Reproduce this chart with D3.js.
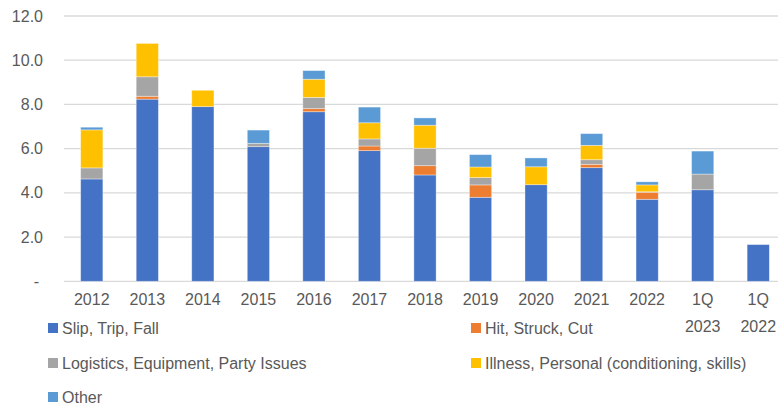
<!DOCTYPE html>
<html><head><meta charset="utf-8">
<script src="https://cdn.jsdelivr.net/npm/d3@7"></script>
<style>body{margin:0;background:#fff}svg{display:block}text{font-family:"Liberation Sans",Arial,sans-serif}</style>
</head><body><svg id="c" width="778" height="408"></svg>
<script>
const categories = ["2012","2013","2014","2015","2016","2017","2018","2019","2020","2021","2022","1Q 2023","1Q 2022"];
const seriesNames = ["Slip, Trip, Fall","Hit, Struck, Cut","Logistics, Equipment, Party Issues","Illness, Personal (conditioning, skills)","Other"];
const slipTripFall = [4.63,8.24,7.90,6.09,7.67,5.91,4.81,3.80,4.37,5.14,3.71,4.14,1.66];
const hitStruckCut = [0,0.13,0,0,0.14,0.21,0.42,0.56,0,0.15,0.32,0,0];
const logistics    = [0.50,0.88,0,0.15,0.51,0.32,0.79,0.33,0,0.21,0.02,0.71,0];
const illness      = [1.72,1.51,0.74,0,0.82,0.73,1.04,0.48,0.81,0.65,0.31,0,0];
const other        = [0.12,0,0,0.60,0.39,0.71,0.33,0.56,0.40,0.53,0.14,1.04,0];
const colors = ["#4472C4","#ED7D31","#A5A5A5","#FFC000","#5B9BD5"];
const yTicks = [0,2,4,6,8,10,12];

const svg = d3.select("#c");
const x = d3.scaleBand().domain(categories).range([64,786]).paddingInner(0.6).paddingOuter(0.3);
const y = d3.scaleLinear().domain([0,12]).range([281.3,16]);

const rows = categories.map((c,i)=>({cat:c,s0:slipTripFall[i],s1:hitStruckCut[i],s2:logistics[i],s3:illness[i],s4:other[i]}));
const stack = d3.stack().keys(["s0","s1","s2","s3","s4"])(rows);

// gridlines
svg.append("g").selectAll("line").data(yTicks).join("line")
  .attr("x1",64).attr("x2",778).attr("y1",d=>y(d)).attr("y2",d=>y(d))
  .attr("stroke","#d9d9d9").attr("stroke-width",1.3);

// bars
svg.append("g").selectAll("g").data(stack).join("g").attr("fill",(d,i)=>colors[i])
  .selectAll("rect").data(d=>d).join("rect")
  .attr("x",d=>x(d.data.cat)).attr("width",x.bandwidth())
  .attr("y",d=>y(d[1])).attr("height",d=>Math.max(0,y(d[0])-y(d[1])))
  .attr("stroke","#ffffff").attr("stroke-opacity",0.45).attr("stroke-width",d=>(d[1]-d[0])>0?0.8:0);

// y axis labels
const yAxis = d3.axisLeft(y).tickValues(yTicks).tickSize(0).tickPadding(0)
  .tickFormat(d=>d===0?"-":d.toFixed(1));
const ya = svg.append("g").attr("transform","translate(43,0)").call(yAxis);
ya.select(".domain").remove();
ya.selectAll("text").attr("fill","#595959").style("font-size","16px").style("font-family",'"Liberation Sans",Arial,sans-serif');
ya.selectAll(".tick").filter(d=>d===0).select("text").attr("dx",-4);

// x axis labels
const xa = svg.append("g").attr("transform","translate(0,281.3)").call(d3.axisBottom(x).tickSize(0).tickPadding(0).tickFormat(""));
xa.select(".domain").remove();
xa.selectAll(".tick").each(function(d){
  const parts = d.split(" ");
  const t = d3.select(this).append("text").attr("fill","#595959").attr("text-anchor","middle")
    .style("font-size","16px");
  parts.forEach((p,i)=>t.append("tspan").attr("x",0).attr("y",24+i*27).text(p));
});

// legend
const legPos = [[48,328],[471,328],[48,363],[471,363],[48,397]];
const leg = svg.append("g").selectAll("g").data(seriesNames).join("g")
  .attr("transform",(d,i)=>`translate(${legPos[i][0]},${legPos[i][1]})`);
leg.append("rect").attr("x",0).attr("y",-5).attr("width",10).attr("height",10).attr("fill",(d,i)=>colors[i]);
leg.append("text").attr("x",14).attr("y",6).attr("fill","#595959").style("font-size","16px").text(d=>d);
</script></body></html>
